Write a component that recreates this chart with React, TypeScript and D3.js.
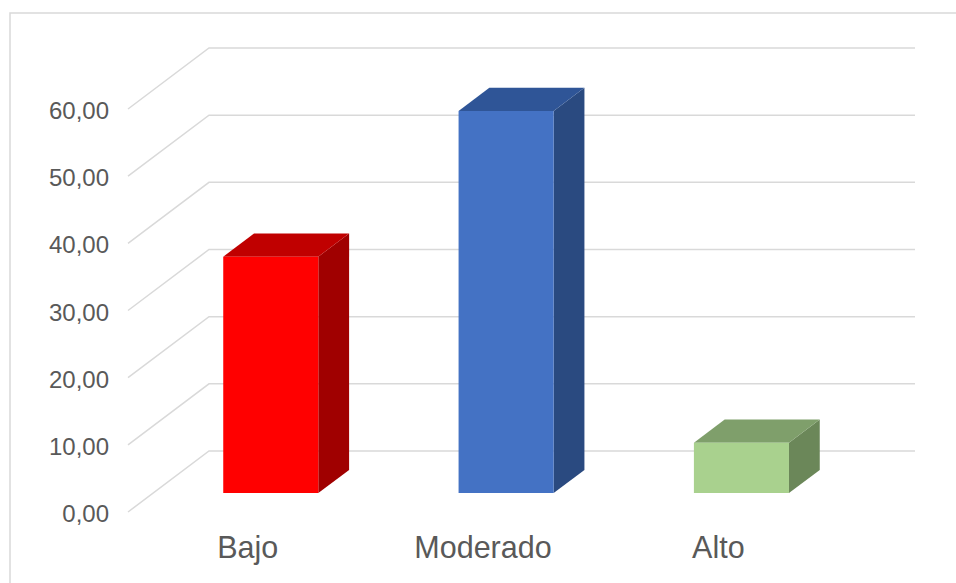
import * as d3 from 'd3';

const categories = ['Bajo', 'Moderado', 'Alto'];
const values = [35.2, 56.9, 7.5];
const yTicks = [0, 10, 20, 30, 40, 50, 60];
const frontColors = ['#FF0000', '#4472C4', '#A9D18E'];
const topColors = ['#C00000', '#2F5597', '#7F9F6B'];
const sideColors = ['#A00000', '#2A4A80', '#6B8759'];

const W = 956;
const H = 583;

// perspective offset of the back wall relative to the front edge
const DEPTH_X = 81;
const DEPTH_Y = -61;
// bars occupy this slice of the depth
const BAR_T0 = 0.31;
const BAR_T1 = 0.69;

export default function App() {
  const x = d3
    .scaleBand<string>()
    .domain(categories)
    .range([128, 834])
    .paddingInner(0.596)
    .paddingOuter(0.298);

  const y = d3.scaleLinear().domain([0, 60]).range([512, 109]);

  const pt = (px: number, v: number, t: number): [number, number] => [
    px + DEPTH_X * t,
    y(v) + DEPTH_Y * t,
  ];
  const poly = (pts: [number, number][]) => pts.map(p => p.join(',')).join(' ');

  const backRight = 915;

  return (
    <svg
      width={W}
      height={H}
      style={{ position: 'absolute', left: 0, top: 0, display: 'block', background: '#fff' }}
      fontFamily="'Liberation Sans', Arial, sans-serif"
    >
      <rect x={10} y={13} width={W + 20} height={H + 20} fill="none" stroke="#D9D9D9" strokeWidth={1.5} />

      {/* gridlines: diagonal on the side wall, horizontal on the back wall */}
      {yTicks.map(t => {
        const [fx, fy] = pt(128, t, 0);
        const [bx, by] = pt(128, t, 1);
        return (
          <g key={t}>
            <polyline
              points={poly([[fx, fy], [bx, by], [backRight, by]])}
              fill="none"
              stroke="#D9D9D9"
              strokeWidth={1.5}
            />
            <text
              x={109}
              y={fy + 1.5}
              textAnchor="end"
              dominantBaseline="central"
              fontSize={24}
              fill="#595959"
            >
              {d3.format('.2f')(t).replace('.', ',')}
            </text>
          </g>
        );
      })}

      {/* bars */}
      {categories.map((c, i) => {
        const x0 = x(c)!;
        const x1 = x0 + x.bandwidth();
        const v = values[i];
        const fbl = pt(x0, 0, BAR_T0);
        const fbr = pt(x1, 0, BAR_T0);
        const ftl = pt(x0, v, BAR_T0);
        const ftr = pt(x1, v, BAR_T0);
        const btl = pt(x0, v, BAR_T1);
        const btr = pt(x1, v, BAR_T1);
        const bbr = pt(x1, 0, BAR_T1);
        return (
          <g key={c}>
            <polygon points={poly([fbr, ftr, btr, bbr])} fill={sideColors[i]} />
            <polygon points={poly([ftl, ftr, btr, btl])} fill={topColors[i]} />
            <polygon points={poly([fbl, fbr, ftr, ftl])} fill={frontColors[i]} />
          </g>
        );
      })}

      {/* category labels */}
      {categories.map(c => (
        <text
          key={c}
          x={x(c)! + x.bandwidth() / 2 + 2}
          y={y(0) + 46}
          textAnchor="middle"
          fontSize={30.5}
          fill="#595959"
        >
          {c}
        </text>
      ))}
    </svg>
  );
}
